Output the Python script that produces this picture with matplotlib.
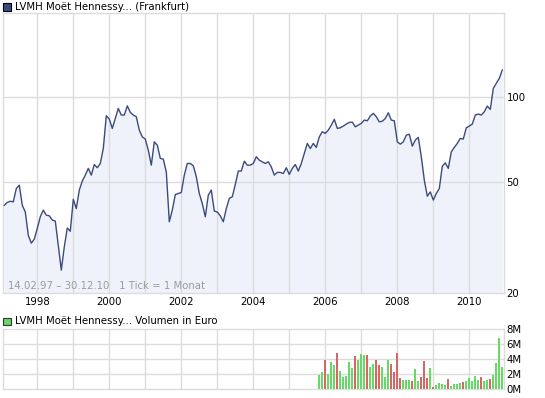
"""
LVMH monthly price (Frankfurt) with monthly volume panel below.
"""

import numpy as np
import matplotlib
matplotlib.use('Agg')
import matplotlib.pyplot as plt
from matplotlib.patches import Rectangle

W, H = 545, 398

# ── Data (monthly closes, 02/1997 .. 12/2010) ────────────────────────────────

START_YEAR = 1997
START_MONTH = 2          # February 1997

PRICE = [
    41.2, 42.2, 42.6, 42.4, 47.3, 48.6, 41.2, 39.0, 32.2, 30.2, 31.2, 34.1,
    37.5, 39.6, 38.0, 37.8, 36.5, 36.2, 29.7, 24.2, 29.3, 34.2, 33.3, 43.3,
    40.1, 46.7, 50.3, 52.8, 55.8, 52.8, 57.6, 56.1, 58.1, 65.7, 86.0, 83.7,
    77.5, 84.1, 91.3, 86.5, 86.5, 93.3, 88.4, 86.5, 85.3, 76.4, 72.3, 71.0,
    64.8, 57.3, 69.4, 67.5, 60.6, 60.2, 54.2, 36.0, 39.6, 45.0, 45.4, 45.8,
    52.8, 58.1, 58.1, 57.0, 52.1, 45.4, 41.8, 37.5, 44.8, 46.7, 39.3, 39.0,
    37.8, 36.0, 40.1, 43.6, 44.2, 48.9, 54.6, 54.6, 59.2, 57.3, 57.3, 58.1,
    61.4, 59.7, 58.9, 58.1, 58.9, 56.5, 52.8, 54.0, 54.0, 53.5, 56.1, 53.1,
    55.8, 57.6, 54.6, 58.1, 63.1, 68.5, 65.7, 68.5, 66.3, 72.3, 75.4, 74.4,
    76.4, 79.6, 83.5, 77.5, 77.9, 79.0, 80.3, 81.4, 81.6, 78.5, 79.6, 80.8,
    83.0, 82.5, 85.8, 87.7, 85.3, 81.8, 82.2, 84.1, 88.1, 83.0, 82.5, 69.4,
    68.1, 69.4, 73.3, 73.9, 67.0, 70.4, 72.0, 61.4, 50.7, 44.4, 46.0, 43.0,
    45.4, 47.3, 56.8, 58.4, 55.8, 63.9, 66.3, 68.5, 71.4, 71.0, 77.9, 79.0,
    80.3, 86.5, 87.2, 86.5, 88.8, 93.1, 90.6, 107.7, 112.2, 116.9, 125.2,
]

# volume in million euro, 11/2005 .. 12/2010
VOL_START = 105          # index into PRICE of the first volume bar
VOLUME = [
    1.9, 2.3, 3.9, 2.0, 3.6, 3.25, 4.8, 2.4, 1.6, 1.8, 3.6, 2.8,
    4.4, 3.9, 4.7, 4.6, 4.6, 3.0, 3.4, 3.9, 3.2, 3.0, 1.6, 3.9,
    3.4, 2.3, 4.8, 1.5, 1.2, 1.2, 1.2, 1.1, 2.7, 1.1, 1.6, 3.8,
    1.5, 2.8, 0.3, 0.6, 0.8, 0.7, 0.6, 1.4, 0.4, 0.7, 0.7, 0.8,
    1.0, 1.1, 1.5, 1.1, 1.8, 1.2, 1.6, 1.1, 1.2, 1.4, 1.9, 3.5,
    6.8, 3.0,
]

PRICE_TICKS = [20, 50, 100]
VOL_TICKS = [0, 2, 4, 6, 8]
VOL_LABELS = ['0M', '2M', '4M', '6M', '8M']
YEAR_LABELS = [1998, 2000, 2002, 2004, 2006, 2008, 2010]

LINE = '#3b4b7c'
FILL = '#eff2fa'
GRID = '#dcdcdc'
UP = '#66d966'
DOWN = '#d96666'
FONT = 'DejaVu Sans'
FS = 7.3


def px(x, y):
    return x / W, 1 - y / H


# ── Figure ───────────────────────────────────────────────────────────────────

plt.rcParams['font.family'] = FONT
fig = plt.figure(figsize=(W / 100, H / 100), dpi=100)
fig.patch.set_facecolor('white')

# pixel box of the panels
L, R = 2.7, 503.7
ax = fig.add_axes([L / W, 1 - 293.3 / H, (R - L) / W, (293.3 - 13) / H])
axv = fig.add_axes([L / W, 1 - 389.3 / H, (R - L) / W, 60 / H])

price = np.array(PRICE)
t = START_YEAR + (np.arange(len(price)) + START_MONTH - 1) / 12
xlim = (1998 + (L - 37.3) / 36, 1998 + (R - 37.3) / 36)

# price panel
ax.set_yscale('log')
ax.set_ylim(20, 200)
ax.set_xlim(*xlim)
ax.fill_between(t, price, 20, color=FILL, lw=0, zorder=1)
ax.plot(t, price, color=LINE, lw=1.0, zorder=3)

for yr in range(1998, 2011):
    ax.axvline(yr, color=GRID, lw=1.0, zorder=2)
for v in PRICE_TICKS[1:]:
    ax.axhline(v, color=GRID, lw=1.0, zorder=2)

ax.yaxis.tick_right()
ax.set_yticks(PRICE_TICKS)
ax.set_yticklabels([str(v) for v in PRICE_TICKS])
ax.yaxis.set_minor_locator(matplotlib.ticker.NullLocator())
ax.set_xticks(YEAR_LABELS)
ax.set_xticklabels([str(y) for y in YEAR_LABELS])
ax.tick_params(axis='both', length=0, labelsize=FS, colors='black', pad=3)
ax.tick_params(axis='y', pad=2)
for s in ax.spines.values():
    s.set_color(GRID)
    s.set_linewidth(1.0)

ax.text(5.5 / (R - L), 0.008, '14.02.97 \u2013 30.12.10   1 Tick = 1 Monat',
        transform=ax.transAxes, fontsize=FS, color='#9a9a9a',
        ha='left', va='bottom')

# volume panel
vol = np.array(VOLUME)
tv = t[VOL_START:VOL_START + len(vol)]
prev = price[VOL_START - 1:VOL_START - 1 + len(vol)]
cur = price[VOL_START:VOL_START + len(vol)]
colors = [UP if c >= p else DOWN for c, p in zip(cur, prev)]
axv.bar(tv, vol, width=2 / 36, color=colors, lw=0, zorder=3)

axv.set_xlim(*xlim)
axv.set_ylim(0, 8)
for yr in range(1998, 2011):
    axv.axvline(yr, color=GRID, lw=1.0, zorder=1)
for v in VOL_TICKS[1:-1]:
    axv.axhline(v, color=GRID, lw=1.0, zorder=1)
axv.yaxis.tick_right()
axv.set_yticks(VOL_TICKS)
axv.set_yticklabels(VOL_LABELS)
axv.set_xticks([])
axv.tick_params(axis='y', length=0, labelsize=FS, pad=2)
for s in axv.spines.values():
    s.set_color(GRID)
    s.set_linewidth(1.0)

# legend lines
x0, y0 = px(3.3, 10.8)
fig.add_artist(Rectangle((x0, y0), 7.5 / W, 7.5 / H, transform=fig.transFigure,
                         facecolor='#3b4b7c', edgecolor='black', lw=0.8))
fig.text(*px(15, 7), 'LVMH Mo\u00ebt Hennessy... (Frankfurt)',
         fontsize=FS, ha='left', va='center')

x0, y0 = px(3.3, 325.3)
fig.add_artist(Rectangle((x0, y0), 7.5 / W, 7.5 / H, transform=fig.transFigure,
                         facecolor=UP, edgecolor='#333333', lw=0.8))
fig.text(*px(15, 321.5), 'LVMH Mo\u00ebt Hennessy... Volumen in Euro',
         fontsize=FS, ha='left', va='center')

fig.savefig('out.png', dpi=100, facecolor='white')
